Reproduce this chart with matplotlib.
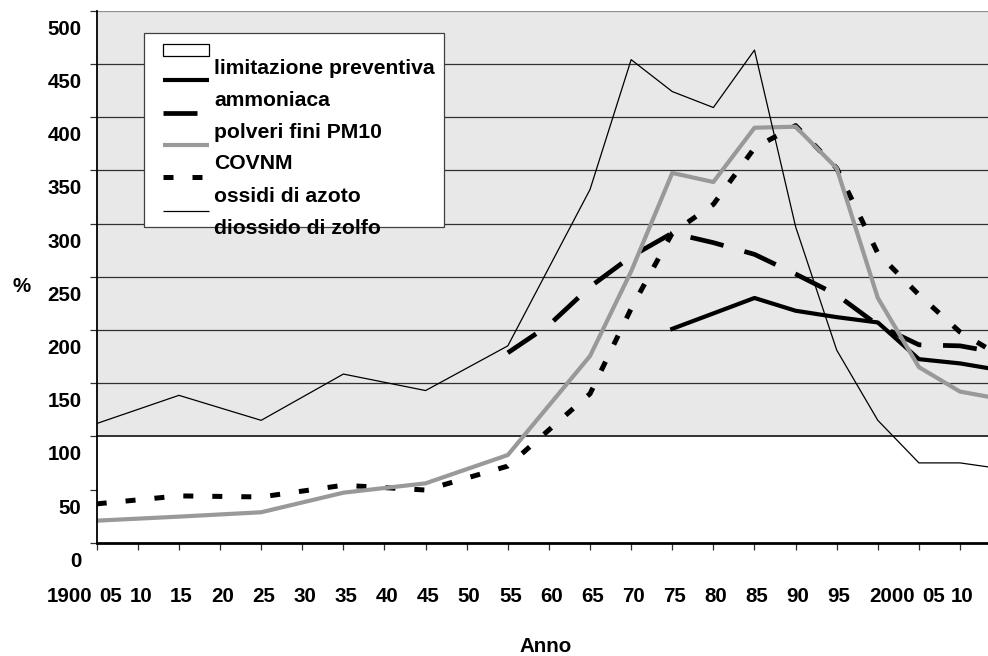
import numpy as np
import matplotlib
matplotlib.use('Agg')
import matplotlib.pyplot as plt
from matplotlib.transforms import ScaledTranslation, blended_transform_factory
from matplotlib.patches import Rectangle
from matplotlib.lines import Line2D

plt.rcParams['font.family'] = ['Liberation Sans', 'DejaVu Sans']
plt.rcParams['font.weight'] = 'bold'

# ---------------- data (values in %) ----------------
years_so2 = [1900, 1915, 1925, 1935, 1945, 1955, 1965, 1970, 1975, 1980, 1985, 1990, 1995, 2000, 2005, 2010, 2015]
so2 = [112, 138.5, 115, 158.5, 143, 185, 332, 454, 424, 409, 463, 297, 181, 115, 75, 75, 69.5]

years_nh3 = [1975, 1985, 1990, 1995, 2000, 2005, 2010, 2015]
nh3 = [201, 230, 218, 212, 207, 172.5, 168.5, 162]

years_pm10 = [1955, 1960, 1965, 1970, 1975, 1980, 1985, 1990, 1995, 2000, 2005, 2010, 2015]
pm10 = [178.5, 204.5, 240.5, 269, 291, 282, 271, 252.5, 233, 204.5, 186, 185, 178]

years_covnm = [1900, 1915, 1925, 1935, 1945, 1955, 1965, 1970, 1975, 1980, 1985, 1990, 1995, 2000, 2005, 2010, 2015]
covnm = [20.7, 24.5, 28.6, 47, 55.8, 82.4, 175.5, 255, 347.5, 339, 390, 391, 352, 230, 165, 142, 135]

years_nox = [1900, 1915, 1925, 1935, 1945, 1955, 1965, 1970, 1975, 1980, 1985, 1990, 1995, 2000, 2005, 2010, 2015]
nox = [36.5, 44, 43, 54, 49.5, 72, 140, 220, 291, 318, 371, 392, 352, 272, 233, 198, 175]

xlabels = ['1900', '05', '10', '15', '20', '25', '30', '35', '40', '45', '50', '55', '60',
           '65', '70', '75', '80', '85', '90', '95', '2000', '05', '10']
ytick_values = list(range(0, 501, 50))
legend_labels = ['limitazione preventiva', 'ammoniaca', 'polveri fini PM10', 'COVNM',
                 'ossidi di azoto', 'diossido di zolfo']

# --------------- layout ----------------
W, H = 988, 656
fig = plt.figure(figsize=(W / 100, H / 100), dpi=100)
ax = fig.add_axes([96.7 / W, 1 - 542.7 / H, (988 - 96.7) / W, (542.7 - 10.7) / H])

def slot(years):
    # category axis of the original: first point at the left edge, then 5-year slots
    return np.interp(years, [1900, 1915, 2015], [0, 2, 22])

ax.set_xlim(0, 21.68)
ax.set_ylim(0, 500)

ax.axhspan(100, 500, color='#E8E8E8', zorder=0, lw=0)
for v in ytick_values:
    if v > 100:
        ax.axhline(v, color='#909090' if v == 500 else '#303030', lw=0.9, zorder=1)
ax.axhline(100, color='#303030', lw=1.4, zorder=1)

# series
ax.plot(slot(years_nh3), nh3, color='black', lw=3.0, solid_joinstyle='round', zorder=3)
ax.plot(slot(years_pm10), pm10, color='black', lw=3.4, linestyle=(0, (7.2, 4.6)),
        dash_capstyle='butt', zorder=3)
ax.plot(slot(years_nox), nox, color='black', lw=3.6, linestyle=(0, (2.0, 3.8)),
        dash_capstyle='butt', zorder=3)
ax.plot(slot(years_covnm), covnm, color='#999999', lw=3.0, solid_joinstyle='round', zorder=4)
ax.plot(slot(years_so2), so2, color='black', lw=0.9, zorder=5)

# spines
for s in ['top', 'right']:
    ax.spines[s].set_visible(False)
ax.spines['left'].set_linewidth(1.3)
ax.spines['bottom'].set_linewidth(2.0)
ax.spines['left'].set_zorder(6)
ax.spines['bottom'].set_zorder(6)

# ticks (one category slot per tick)
n_slots = 22
ax.set_xticks(np.arange(n_slots))
ax.set_xticklabels([''] * n_slots)
ax.tick_params(axis='x', direction='out', length=5, width=0.9, color='#303030')
ax.set_yticks(ytick_values)
ax.set_yticklabels([str(v) for v in ytick_values])
ax.tick_params(axis='y', direction='out', length=5, width=0.9, color='#303030',
               labelsize=14.8, pad=6)
off = ScaledTranslation(0, -16.5 / 100, fig.dpi_scale_trans)
for lab in ax.get_yticklabels():
    lab.set_transform(lab.get_transform() + off)
    lab.set_fontweight('bold')

# x tick labels as in the original (crowded at both ends)
label_pos = [-0.657, 0.348, 1.073] + [k + 0.06 for k in range(2, 19)] + [19.34, 20.35, 21.04]
trans = blended_transform_factory(ax.transData, fig.transFigure)
for p, t in zip(label_pos, xlabels):
    ax.text(p, 1 - 597 / H, t, transform=trans, ha='center', va='center',
            fontsize=14.8, fontweight='bold', clip_on=False)

fig.text(546 / W, 1 - 646 / H, 'Anno', ha='center', va='center', fontsize=14.8, fontweight='bold')
fig.text(22 / W, 1 - 287 / H, '%', ha='center', va='center', fontsize=14.8, fontweight='bold')

# ---------------- legend (reproducing original offset layout) ----------------
def fx(px):
    return px / W

def fy(py):
    return 1 - py / H

fig.add_artist(Rectangle((fx(144), fy(227)), fx(444) - fx(144), fy(33) - fy(227),
                         transform=fig.transFigure, facecolor='white', edgecolor='#404040',
                         lw=0.9, zorder=10))
fig.add_artist(Rectangle((fx(162.5), fy(56)), fx(209) - fx(162.5), fy(43.5) - fy(56),
                         transform=fig.transFigure, facecolor='white', edgecolor='black',
                         lw=0.9, zorder=11))
handle_styles = [
    (80, dict(color='black', lw=3.0)),
    (113.3, dict(color='black', lw=3.4, linestyle=(0, (7.2, 4.6)), dash_capstyle='butt')),
    (145, dict(color='#999999', lw=3.0)),
    (177.3, dict(color='black', lw=3.6, linestyle=(0, (2.0, 3.8)), dash_capstyle='butt')),
    (210.7, dict(color='black', lw=0.9)),
]
for yy, st in handle_styles:
    fig.add_artist(Line2D([fx(162.5), fx(209)], [fy(yy), fy(yy)], transform=fig.transFigure,
                          solid_capstyle='butt', zorder=11, **st))
baselines = [74, 106, 137.5, 169.5, 202, 234]
for b, t in zip(baselines, legend_labels):
    fig.text(fx(214), fy(b), t, ha='left', va='baseline', fontsize=15.2,
             fontweight='bold', zorder=12)

fig.savefig('out.png', dpi=100)
